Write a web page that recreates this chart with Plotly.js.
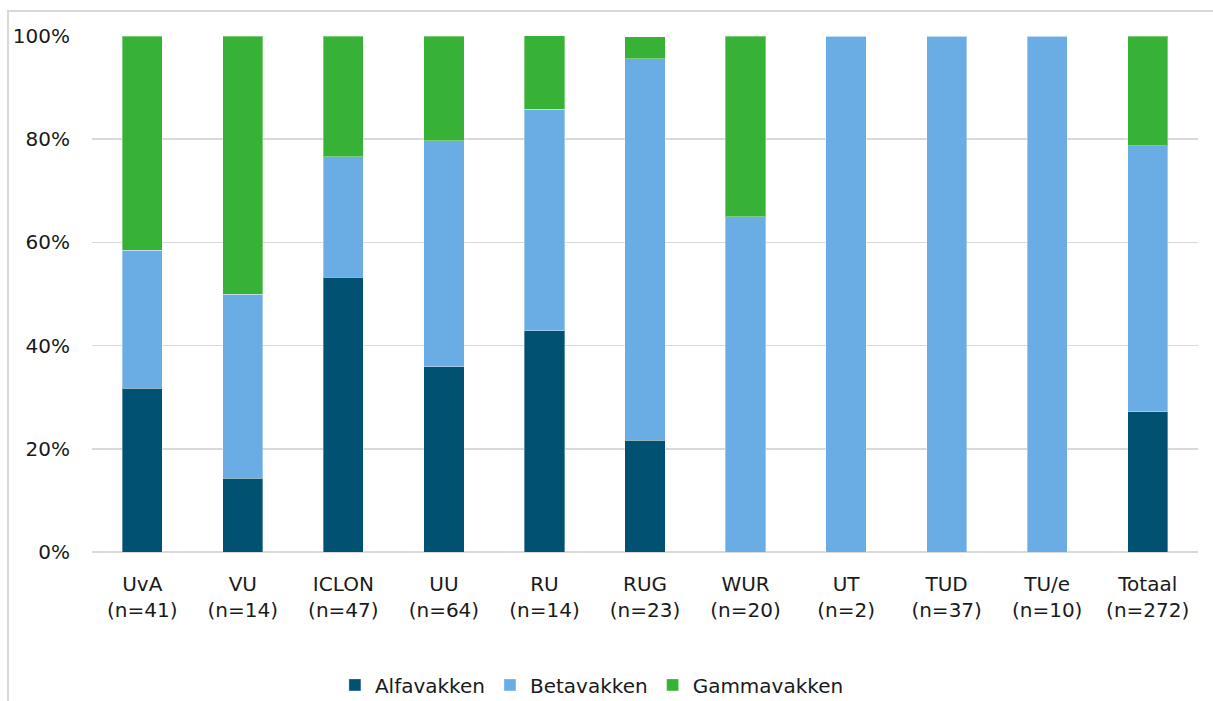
<!DOCTYPE html>
<html>
<head>
<meta charset="utf-8">
<script src="https://cdn.plot.ly/plotly-3.0.1.min.js"></script>
<style>
html,body{margin:0;padding:0;background:#fff;}
#frame{position:absolute;left:7px;top:10px;width:1220px;height:720px;border:2px solid #D9D9D6;box-sizing:border-box;}
#chart{position:absolute;left:0;top:0;width:1213px;height:701px;}
</style>
</head>
<body>
<div id="frame"></div>
<div id="chart"></div>
<script>
const categories = ["UvA<br>(n=41)","VU<br>(n=14)","ICLON<br>(n=47)","UU<br>(n=64)","RU<br>(n=14)","RUG<br>(n=23)","WUR<br>(n=20)","UT<br>(n=2)","TUD<br>(n=37)","TU/e<br>(n=10)","Totaal<br>(n=272)"];
const alfavakken  = [31.7, 14.3, 53.2, 35.9, 42.9, 21.7, 0,   0,   0,   0,   27.2];
const betavakken  = [26.8, 35.7, 23.4, 43.8, 42.9, 73.9, 65.0,100, 100, 100,  51.5];
const gammavakken = [41.5, 50.0, 23.4, 20.3, 14.3, 4.3,  35.0, 0,   0,   0,   21.3];
const seriesNames = ["Alfavakken","Betavakken","Gammavakken"];
const yTickVals = [0,20,40,60,80,100];
const yTickText = ["0%","20%","40%","60%","80%","100%"];
const colors = ["#005172","#6AADE4","#37B237"];

const font = {family:"DejaVu Sans, Verdana, sans-serif", size:20, color:"#1a1a1a"};
const data = [alfavakken, betavakken, gammavakken].map((vals,i)=>({
  type:"bar", name:seriesNames[i], x:categories, y:vals,
  marker:{color:colors[i], line:{color:"rgba(255,255,255,0.35)", width:1}},
  hoverinfo:"x+y+name"
}));
const layout = {
  width:1213, height:701,
  margin:{l:92, r:15, t:36, b:149},
  barmode:"stack", bargap:0.6,
  paper_bgcolor:"rgba(0,0,0,0)", plot_bgcolor:"rgba(0,0,0,0)",
  font:font,
  xaxis:{type:"category", automargin:false, showgrid:false, zeroline:false, showline:false, ticks:"", tickfont:font, ticklabelstandoff:18},
  yaxis:{range:[0,100], automargin:false, tickmode:"array", tickvals:yTickVals, ticktext:yTickText, showgrid:true, gridcolor:"#D9D9D9", gridwidth:1.5,
         zeroline:true, zerolinecolor:"#D9D9D9", zerolinewidth:1.5, showline:false, ticks:"", tickfont:font, ticklabelstandoff:21},
  legend:{orientation:"h", x:0.452, xanchor:"center", yref:"container", y:0.023, yanchor:"middle", font:font, traceorder:"normal", itemwidth:20},
  showlegend:true
};
Plotly.newPlot("chart", data, layout, {displayModeBar:false, staticPlot:true});
</script>
</body>
</html>
